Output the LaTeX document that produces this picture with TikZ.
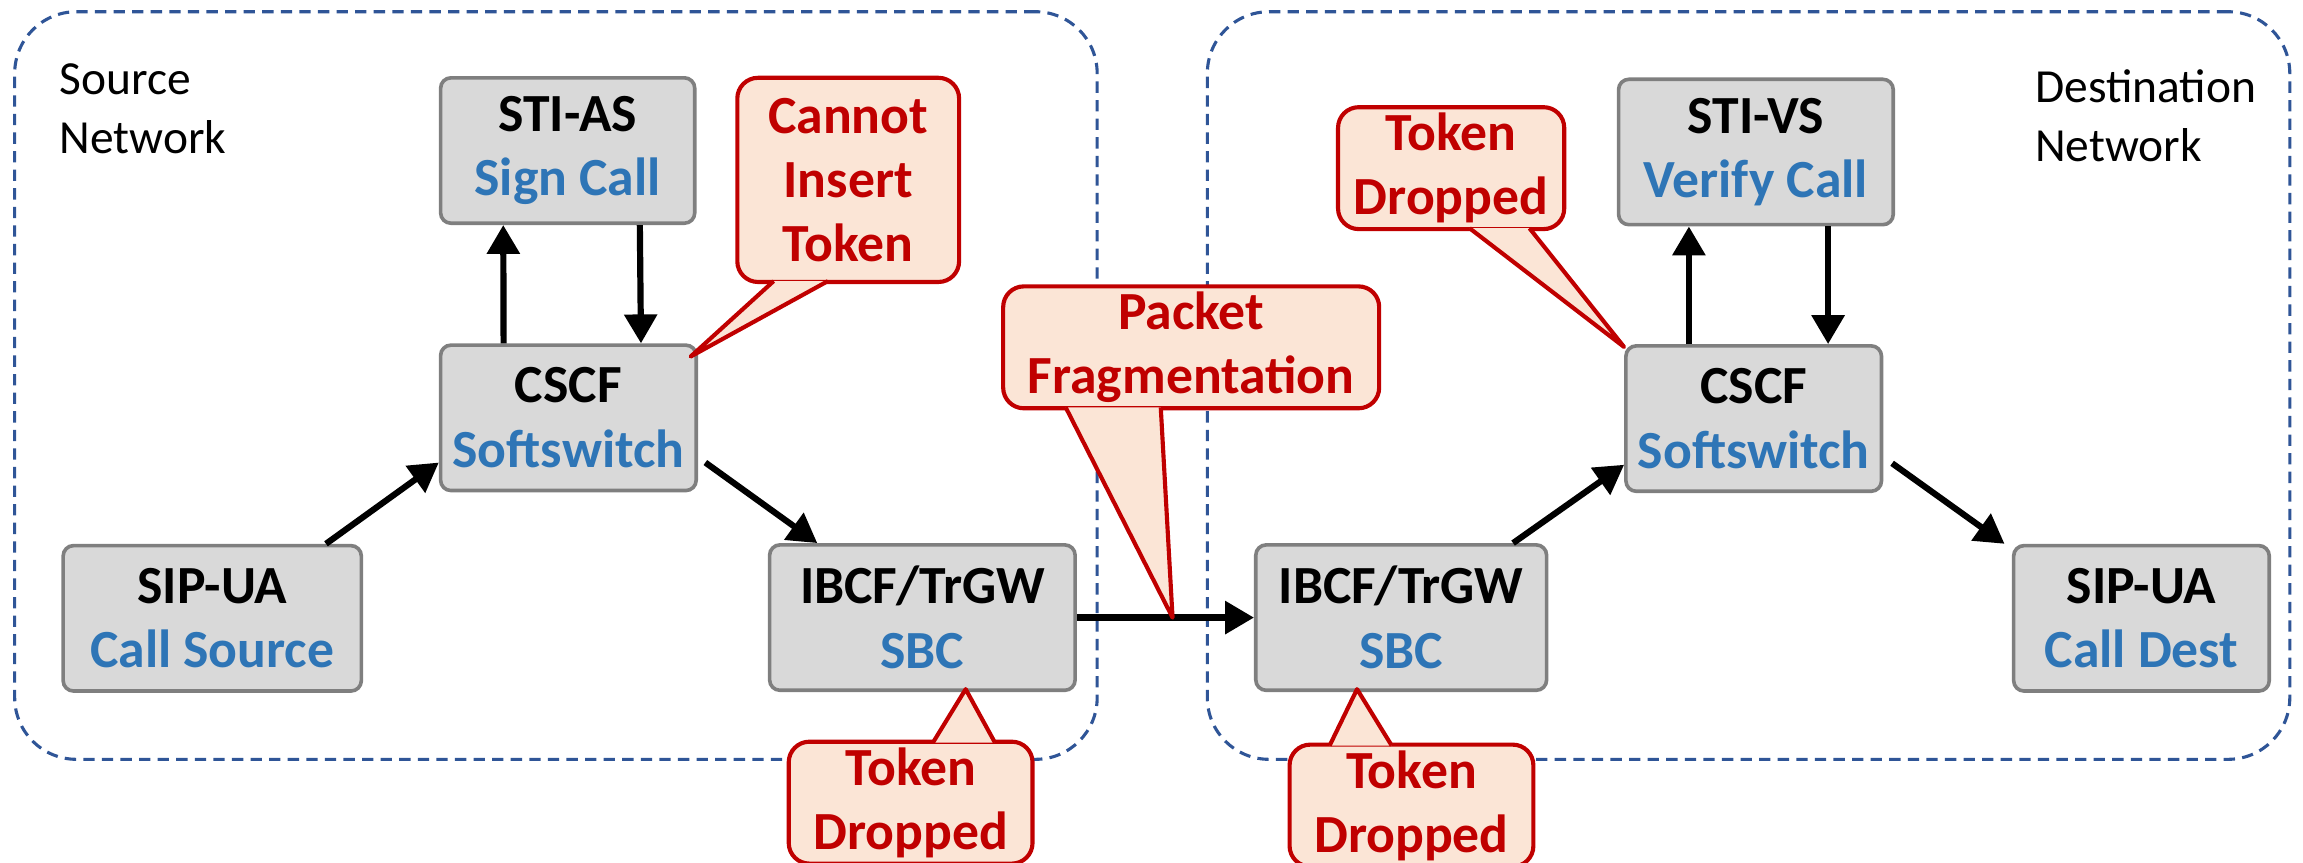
\documentclass[tikz,border=0pt]{standalone}
\usepackage{fontspec}
\setmainfont{Carlito}
\definecolor{boxgray}{HTML}{D9D9D9}
\definecolor{edgegray}{HTML}{7F7F7F}
\definecolor{netblue}{HTML}{2F5597}
\definecolor{lightblue}{HTML}{2E75B6}
\definecolor{red9}{HTML}{C00000}
\definecolor{peach9}{HTML}{FBE5D6}
\usetikzlibrary{arrows.meta,calc}

\begin{document}
\begin{tikzpicture}[>={Triangle[length=5.6pt,width=6.2pt]},
  elem/.style={draw=edgegray, fill=boxgray, line width=0.7pt, rounded corners=2pt, minimum height=0.99cm, inner sep=0pt, align=center, font=\bfseries\fontsize{10.4}{12.5}\selectfont},
  alertbox/.style={draw=red9, fill=peach9, line width=0.8pt, rounded corners=4pt, minimum height=0.83cm, inner sep=0pt, align=center, text=red9, font=\bfseries\fontsize{10.4}{12.4}\selectfont},
  alertptr/.style={draw=red9, fill=peach9, line width=0.8pt, line join=round},
  netzone/.style={draw=netblue, line width=0.6pt, dash pattern=on 2.2pt off 1.4pt, rounded corners=0.42cm, minimum width=7.37cm, minimum height=5.09cm},
  netlabel/.style={anchor=north west, inner sep=0pt, align=left, font=\fontsize{9.2}{11.4}\selectfont},
  sig/.style={->, line width=1.2pt}]
  \useasboundingbox (0,0) rectangle (15.68,5.87);
  \clip (0,0) rectangle (15.68,5.87);

  \node[netzone] at (3.785,3.245) (srcnet) {};
  \node[netzone] at (11.905,3.245) (dstnet) {};
  \node[netlabel] at (0.40,5.44) (srclabel) {Source\\Network};
  \node[netlabel] at (13.85,5.40) (dstlabel) {Destination\\Network};

  \node[elem, minimum width=1.73cm] at (3.865,4.845) (stias) {STI-AS\\\textcolor{lightblue}{Sign Call}};
  \node[elem, minimum width=1.74cm] at (3.87,3.025) (cscfA) {CSCF\\\textcolor{lightblue}{Softswitch}};
  \node[elem, minimum width=2.03cm] at (1.445,1.66) (uaA) {SIP-UA\\\textcolor{lightblue}{Call Source}};
  \node[elem, minimum width=2.08cm] at (6.28,1.665) (sbcA) {IBCF/TrGW\\\textcolor{lightblue}{SBC}};

  \node[elem, minimum width=1.98cm] at (9.54,1.665) (sbcB) {IBCF/TrGW\\\textcolor{lightblue}{SBC}};
  \node[elem, minimum width=1.74cm] at (11.94,3.02) (cscfB) {CSCF\\\textcolor{lightblue}{Softswitch}};
  \node[elem, minimum width=1.87cm] at (11.955,4.835) (stivs) {STI-VS\\\textcolor{lightblue}{Verify Call}};
  \node[elem, minimum width=1.74cm] at (14.58,1.66) (uaB) {SIP-UA\\\textcolor{lightblue}{Call Dest}};

  \coordinate (upB) at ($(cscfB.north west)!0.25!(cscfB.north east)$);
  \coordinate (downB) at ($(cscfB.north west)!0.787!(cscfB.north east)$);

  \draw[sig] ($(cscfA.north west)!0.25!(cscfA.north east)$) -- ($(stias.south west)!0.25!(stias.south east)$);
  \draw[sig] ($(stias.south west)!0.78!(stias.south east)$) -- ($(cscfA.north west)!0.78!(cscfA.north east)$);
  \draw[sig] ($(uaA.north west)!0.877!(uaA.north east)$) -- ($(cscfA.south west)!0.2!(cscfA.north west)$);
  \draw[sig] ($(cscfA.south east)!0.2!(cscfA.north east)+(0.05,0)$) -- ($(sbcA.north west)!0.16!(sbcA.north east)$);
  \draw[sig] (sbcA) -- (sbcB);
  \draw[sig] ($(sbcB.north west)!0.88!(sbcB.north east)$) -- ($(cscfB.south west)!0.19!(cscfB.north west)$);
  \draw[sig] (upB) -- (upB |- stivs.south);
  \draw[sig] (downB |- stivs.south) -- (downB);
  \draw[sig] ($(cscfB.south east)!0.2!(cscfB.north east)+(0.06,0)$) -- ($(uaB.north west)+(-0.05,0)$);

  \node[alertbox, minimum width=1.51cm, minimum height=1.39cm] at (5.775,4.645) (insert) {Cannot\\Insert\\Token};
  \node[alertbox, minimum width=1.54cm] at (9.88,4.725) (dropVS) {Token\\Dropped};
  \node[alertbox, minimum width=2.56cm] at (8.11,3.505) (frag) {Packet\\Fragmentation};
  \node[alertbox, minimum width=1.66cm] at (6.20,0.405) (dropA) {Token\\Dropped};
  \node[alertbox, minimum width=1.66cm] at (9.61,0.385) (dropB) {Token\\Dropped};

  \draw[alertptr] ($(insert.south west)!0.17!(insert.south east)+(0,0.02)$) -- ($(cscfA.north east)+(-0.05,-0.09)$) -- ($(insert.south west)!0.41!(insert.south east)+(0,0.02)$);
  \draw[alertptr] ($(dropVS.south west)!0.58!(dropVS.south east)+(0,0.02)$) -- ($(cscfB.north west)+(0,-0.02)$) -- ($(dropVS.south west)!0.84!(dropVS.south east)+(0,0.02)$);
  \draw[alertptr] ($(frag.south west)!0.17!(frag.south east)+(0,0.02)$) -- ($(sbcA.east)!0.54!(sbcB.west)$) -- ($(frag.south west)!0.42!(frag.south east)+(0,0.02)$);
  \draw[alertptr] ($(dropA.north west)!0.59!(dropA.north east)+(0,-0.02)$) -- ($(sbcA.south west)!0.64!(sbcA.south east)+(0,0.02)$) -- ($(dropA.north west)!0.84!(dropA.north east)+(0,-0.02)$);
  \draw[alertptr] ($(dropB.north west)!0.17!(dropB.north east)+(0,-0.02)$) -- ($(sbcB.south west)!0.35!(sbcB.south east)+(0,0.02)$) -- ($(dropB.north west)!0.42!(dropB.north east)+(0,-0.02)$);
\end{tikzpicture}
\end{document}
